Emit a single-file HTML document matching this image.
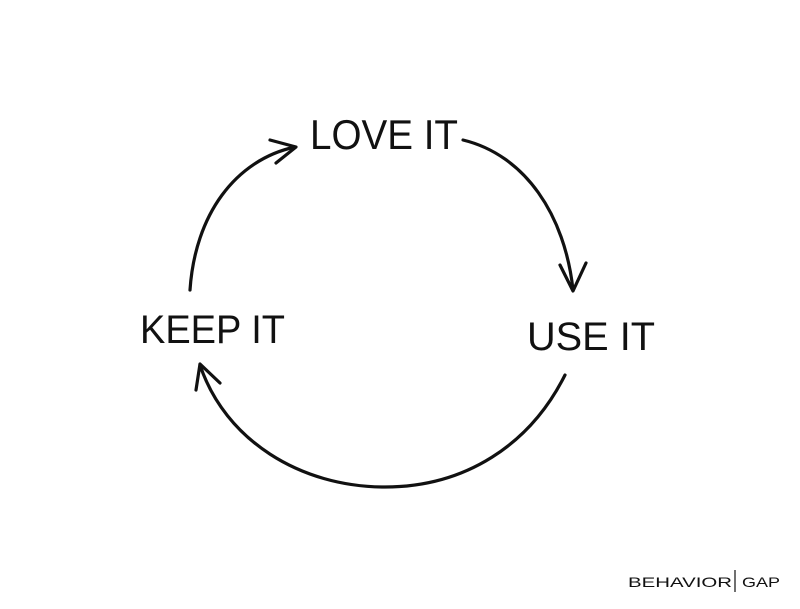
<!DOCTYPE html>
<html><head><meta charset="utf-8"><style>
html,body{margin:0;padding:0;background:#fff;}
svg{display:block;}
text{font-family:"Liberation Sans",sans-serif;fill:#111;}
</style></head><body>
<svg width="800" height="609" viewBox="0 0 800 609" xmlns="http://www.w3.org/2000/svg">
<rect width="800" height="609" fill="#fff"/>
<g fill="none" stroke="#111" stroke-width="3.2" stroke-linecap="round" stroke-linejoin="round">
  <!-- top-left arc -->
  <path d="M190 290 C195 215 235 160 295 147"/>
  <path d="M270 140 L296 147 L276 163"/>
  <!-- top-right arc -->
  <path d="M463 140 C525 155 565 215 573 290"/>
  <path d="M560 265 L573 291 L586 263"/>
  <!-- bottom arc -->
  <path d="M565 375 C530 445 465 487 385 487 C300 487 225 440 200 365"/>
  <path d="M196 390 L200 364 L220 383"/>
</g>
<text x="310" y="149" font-size="42" textLength="148" lengthAdjust="spacingAndGlyphs">LOVE IT</text>
<text x="140" y="343" font-size="40" textLength="145" lengthAdjust="spacingAndGlyphs">KEEP IT</text>
<text x="527" y="350" font-size="40" textLength="128" lengthAdjust="spacingAndGlyphs">USE IT</text>
<text x="628" y="587" font-size="14" textLength="104" lengthAdjust="spacingAndGlyphs">BEHAVIOR</text>
<line x1="735" y1="570" x2="735" y2="592" stroke="#111" stroke-width="1.2"/>
<text x="742" y="587" font-size="14" textLength="38" lengthAdjust="spacingAndGlyphs">GAP</text>
</svg>
</body></html>
